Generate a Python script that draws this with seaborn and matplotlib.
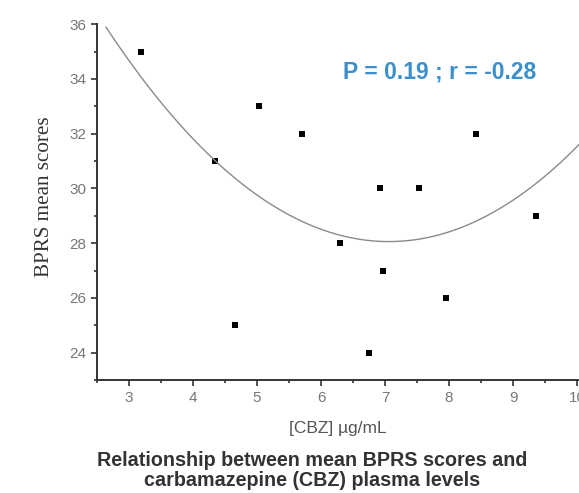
import numpy as np
import pandas as pd
import matplotlib
matplotlib.use("Agg")
import matplotlib.pyplot as plt
import seaborn as sns
from matplotlib.ticker import MultipleLocator

cbz = [3.19, 4.34, 4.66, 5.03, 5.70, 6.30, 6.75, 6.92, 6.97, 7.53, 7.95, 8.42, 9.36]
bprs = [35, 31, 25, 33, 32, 28, 24, 30, 27, 30, 26, 32, 29]
df = pd.DataFrame({"cbz": cbz, "bprs": bprs})

sns.set_style("ticks")
fig = plt.figure(figsize=(5.79, 4.93), dpi=100)
ax = fig.add_axes([0.1675, 0.229, 1 - 0.1675, 0.722])

ax.set_xlim(2.64, 10.03)
sns.regplot(data=df, x="cbz", y="bprs", order=2, ci=None, ax=ax, truncate=False,
            marker="s",
            scatter_kws=dict(s=24, color="black", linewidths=0, alpha=1),
            line_kws=dict(color="#8a8a8a", lw=1.0))

ax.set_xlim(2.5, 10.03)
ax.set_ylim(23, 36)
ax.xaxis.set_major_locator(MultipleLocator(1))
ax.xaxis.set_minor_locator(MultipleLocator(0.5))
ax.yaxis.set_major_locator(MultipleLocator(2))
ax.yaxis.set_minor_locator(MultipleLocator(1))
ax.tick_params(which="major", direction="out", length=4, width=1.2, colors="#333333",
               labelcolor="#777777", labelsize=11)
ax.tick_params(which="minor", direction="out", length=2.5, width=1.2, colors="#333333")
for lbl in ax.get_xticklabels() + ax.get_yticklabels():
    lbl.set_family("Liberation Sans")
for s in ["left", "bottom"]:
    ax.spines[s].set_linewidth(1.4)
    ax.spines[s].set_color("#333333")
sns.despine(ax=ax)

ax.set_xlabel("[CBZ] µg/mL", fontsize=12.5, color="#555555", family="Liberation Sans", labelpad=12)
ax.set_ylabel("BPRS mean scores", fontsize=15.2, color="#333333", family="Liberation Serif")
ax.yaxis.set_label_coords(-0.09, 0.514)

fig.text(0.76, 0.854, "P = 0.19 ; r = -0.28", ha="center", va="center",
         fontsize=16.5, fontweight="bold", color="#3d8fcc", family="Liberation Sans")

fig.text(0.539, 0.046, "Relationship between mean BPRS scores and\ncarbamazepine (CBZ) plasma levels",
         ha="center", va="center", fontsize=14.2, fontweight="bold", color="#333333",
         family="Liberation Sans", linespacing=1.1)

fig.savefig("out.png", dpi=100)
